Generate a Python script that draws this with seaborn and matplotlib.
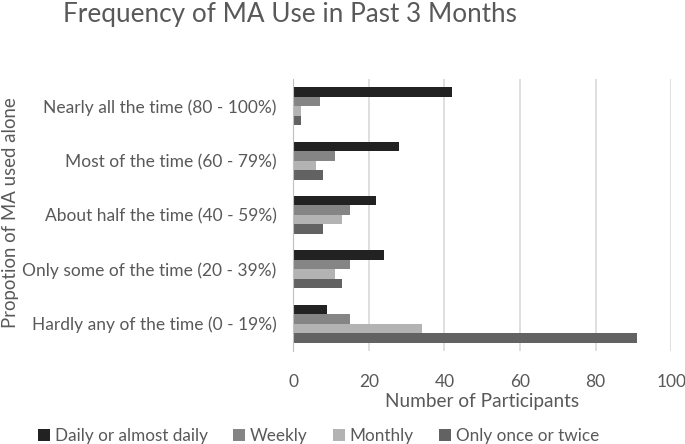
import pandas as pd
import numpy as np
import matplotlib.pyplot as plt
import seaborn as sns

sns.set_style("white")
plt.rcParams["font.family"] = ["Lato", "DejaVu Sans"]

categories = ["Nearly all the time (80 - 100%)", "Most of the time (60 - 79%)",
              "About half the time (40 - 59%)", "Only some of the time (20 - 39%)",
              "Hardly any of the time (0 - 19%)"]
frequencies = ["Daily or almost daily", "Weekly", "Monthly", "Only once or twice"]
daily = [42, 28, 22, 24, 9]
weekly = [7, 11, 15, 15, 15]
monthly = [2, 6, 13, 11, 34]
once = [2, 8, 8, 13, 91]

colors = ["#222222", "#858585", "#b3b3b3", "#626262"]
text_color = "#595959"

rows = []
for freq, vals in zip(frequencies, [daily, weekly, monthly, once]):
    for cat, v in zip(categories, vals):
        rows.append({"category": cat, "freq": freq, "count": v})
df = pd.DataFrame(rows)

fig = plt.figure(figsize=(6.85, 4.44), dpi=100)
ax = fig.add_axes([0.428, 0.21, 0.552, 0.612])

sns.barplot(data=df, x="count", y="category", hue="freq", order=categories,
            hue_order=frequencies, palette=colors, orient="h", width=0.7,
            saturation=1, linewidth=0, ax=ax, legend=True)

ax.set_xlim(0, 100)
ax.set_xticks(np.arange(0, 101, 20))
ax.grid(axis="x", color="#d9d9d9", linewidth=1.2)
ax.set_axisbelow(True)
for s in ["top", "right", "bottom"]:
    ax.spines[s].set_visible(False)
ax.spines["left"].set_color("#bfbfbf")
ax.tick_params(axis="both", length=0, labelsize=12.5, colors=text_color)
ax.tick_params(axis="x", pad=17)
ax.tick_params(axis="y", pad=12)
ax.set_xlabel("Number of Participants", fontsize=13.7, color=text_color, labelpad=2)
ax.set_ylabel("")
fig.text(0.016, 0.52, "Propotion of MA used alone", fontsize=13.4, color=text_color,
         rotation=90, ha="center", va="center")

handles, labels = ax.get_legend_handles_labels()
ax.legend_.remove()
fig.legend(handles, labels, loc="lower center", bbox_to_anchor=(0.465, -0.035), ncol=4,
           frameon=False, fontsize=12.3, handlelength=0.7, handleheight=0.7,
           columnspacing=1.45, handletextpad=0.3, labelcolor=text_color)

fig.text(0.092, 0.967, "Frequency of MA Use in Past 3 Months", fontsize=18.85,
         color=text_color, ha="left", va="center")

plt.savefig("out.png", dpi=100)
